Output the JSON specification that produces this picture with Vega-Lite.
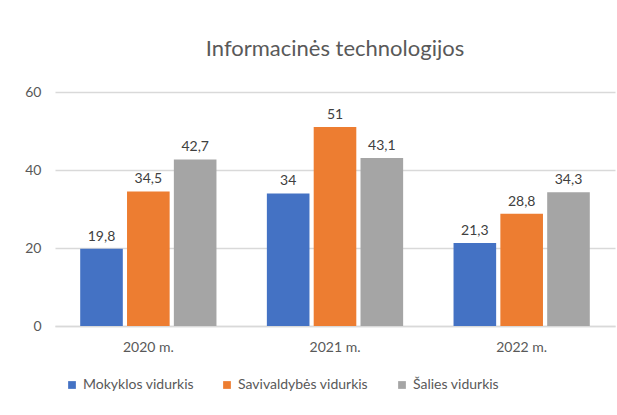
{
  "$schema": "https://vega.github.io/schema/vega-lite/v6.json",
  "width": 560,
  "height": 234,
  "autosize": "none",
  "padding": {"left": 55, "top": 92, "right": 2, "bottom": 89},
  "background": "white",
  "config": {
    "font": "Lato",
    "view": {"stroke": null},
    "locale": {"number": {"decimal": ",", "thousands": " ", "grouping": [3], "currency": ["", " €"]}}
  },
  "title": {
    "text": "Informacinės technologijos",
    "fontSize": 22,
    "fontWeight": "normal",
    "color": "#595959",
    "anchor": "middle",
    "offset": 24
  },
  "data": {
    "values": [
      {"metai": "2020 m.", "serija": "Mokyklos vidurkis", "reiksme": 19.8},
      {"metai": "2020 m.", "serija": "Savivaldybės vidurkis", "reiksme": 34.5},
      {"metai": "2020 m.", "serija": "Šalies vidurkis", "reiksme": 42.7},
      {"metai": "2021 m.", "serija": "Mokyklos vidurkis", "reiksme": 34},
      {"metai": "2021 m.", "serija": "Savivaldybės vidurkis", "reiksme": 51},
      {"metai": "2021 m.", "serija": "Šalies vidurkis", "reiksme": 43.1},
      {"metai": "2022 m.", "serija": "Mokyklos vidurkis", "reiksme": 21.3},
      {"metai": "2022 m.", "serija": "Savivaldybės vidurkis", "reiksme": 28.8},
      {"metai": "2022 m.", "serija": "Šalies vidurkis", "reiksme": 34.3}
    ]
  },
  "encoding": {
    "x": {
      "field": "metai", "type": "nominal",
      "scale": {"paddingInner": 0.27, "paddingOuter": 0.135},
      "axis": {"title": null, "labelAngle": 0, "labelFontSize": 14, "labelColor": "#595959", "labelPadding": 14, "ticks": false, "domainColor": "#D9D9D9", "domainWidth": 1.5}
    },
    "xOffset": {
      "field": "serija", "type": "nominal",
      "sort": ["Mokyklos vidurkis", "Savivaldybės vidurkis", "Šalies vidurkis"],
      "scale": {"paddingInner": 0.09}
    },
    "y": {
      "field": "reiksme", "type": "quantitative",
      "scale": {"domain": [0, 60]},
      "axis": {"title": null, "values": [0, 20, 40, 60], "labelFontSize": 14, "labelColor": "#595959", "labelPadding": 14, "ticks": false, "domain": false, "gridColor": "#D9D9D9", "gridWidth": 1.5}
    }
  },
  "layer": [
    {
      "mark": {"type": "bar"},
      "encoding": {
        "color": {
          "field": "serija", "type": "nominal",
          "sort": ["Mokyklos vidurkis", "Savivaldybės vidurkis", "Šalies vidurkis"],
          "scale": {"range": ["#4472C4", "#ED7D31", "#A5A5A5"]},
          "legend": {"title": null, "orient": "bottom", "direction": "horizontal", "symbolType": "square", "symbolSize": 60, "labelFontSize": 14, "labelColor": "#595959", "columnPadding": 26, "offset": 14, "padding": 10, "symbolStrokeWidth": 0}
        }
      }
    },
    {
      "mark": {"type": "text", "dy": -12, "fontSize": 14, "color": "#404040"},
      "encoding": {
        "text": {"field": "reiksme", "type": "quantitative", "format": ".1~f"}
      }
    }
  ]
}
